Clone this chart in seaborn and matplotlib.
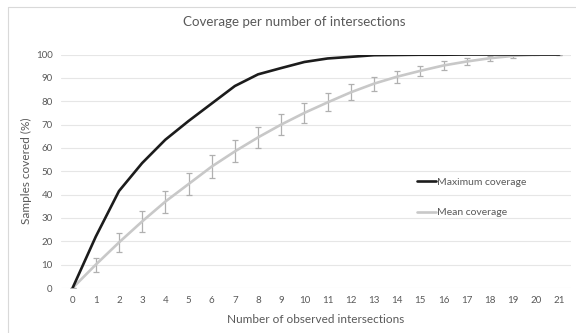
import matplotlib
matplotlib.use("Agg")
import matplotlib.pyplot as plt
import seaborn as sns
import pandas as pd
import numpy as np

intersections = list(range(22))
max_coverage = [0, 22, 41.5, 53.5, 63.5, 71.5, 79, 86.5, 91.5, 94.2, 96.8, 98.3, 99.0, 99.7, 99.8, 99.9, 99.9, 100, 100, 100, 100, 100]
mean_coverage = [0, 10, 19.5, 28.5, 37, 44.5, 52, 58.5, 64.5, 70, 75, 79.5, 83.8, 87.5, 90.5, 93, 95.3, 97, 98.4, 99.4, 99.9, 100]
mean_err = [0, 3, 4, 4.5, 4.7, 4.8, 4.8, 4.7, 4.5, 4.4, 4.2, 3.8, 3.4, 3.0, 2.6, 2.2, 1.8, 1.4, 1.0, 0.7, 0.3, 0]

df = pd.DataFrame({"x": intersections, "max": max_coverage, "mean": mean_coverage, "err": mean_err})

sns.set_style("white")
plt.rcParams['font.family'] = ['Lato', 'DejaVu Sans']

fig = plt.figure(figsize=(5.76, 3.33), dpi=100)
ax = fig.add_axes([61/576, 1-288/333, 510/576, (288-54.5)/333])

txt = "#595959"
ax.errorbar(df["x"], df["mean"], yerr=df["err"], fmt="none", ecolor="#b0b0b0",
            elinewidth=0.9, capsize=2, capthick=0.9, zorder=2)
sns.lineplot(data=df, x="x", y="max", ax=ax, color="#1c1c1c", linewidth=1.9,
             label="Maximum coverage", zorder=4)
sns.lineplot(data=df, x="x", y="mean", ax=ax, color="#c8c8c8", linewidth=1.9,
             label="Mean coverage", zorder=3)

ax.set_xlim(-0.5, 21.5)
ax.set_ylim(0, 100)
ax.set_xticks(intersections)
ax.set_yticks(range(0, 101, 10))
ax.tick_params(axis="both", length=0, labelsize=7, colors=txt, pad=6)
ax.grid(axis="y", color="#e6e6e6", linewidth=0.8)
ax.set_axisbelow(True)
for s in ax.spines.values():
    s.set_visible(False)

ax.set_xlabel("Number of observed intersections", fontsize=8.5, color=txt, labelpad=6)
ax.set_ylabel("Samples covered (%)", fontsize=8.5, color=txt, labelpad=3)
fig.text(294/576, 1-22/333, "Coverage per number of intersections", ha="center", va="center",
         fontsize=9.6, color=txt)

leg = ax.legend(loc="upper left", bbox_to_anchor=(0.68, 0.512), frameon=False,
                fontsize=7.5, handlelength=1.8, handletextpad=0.15, labelspacing=2.0,
                labelcolor=txt)

border = "#d9d9d9"
fig.add_artist(plt.Line2D([8/576, 8/576], [0, 1-7/333], transform=fig.transFigure,
                          color=border, linewidth=0.8))
fig.add_artist(plt.Line2D([8/576, 1], [1-7/333, 1-7/333], transform=fig.transFigure,
                          color=border, linewidth=0.8))
fig.savefig("out.png", dpi=100)
